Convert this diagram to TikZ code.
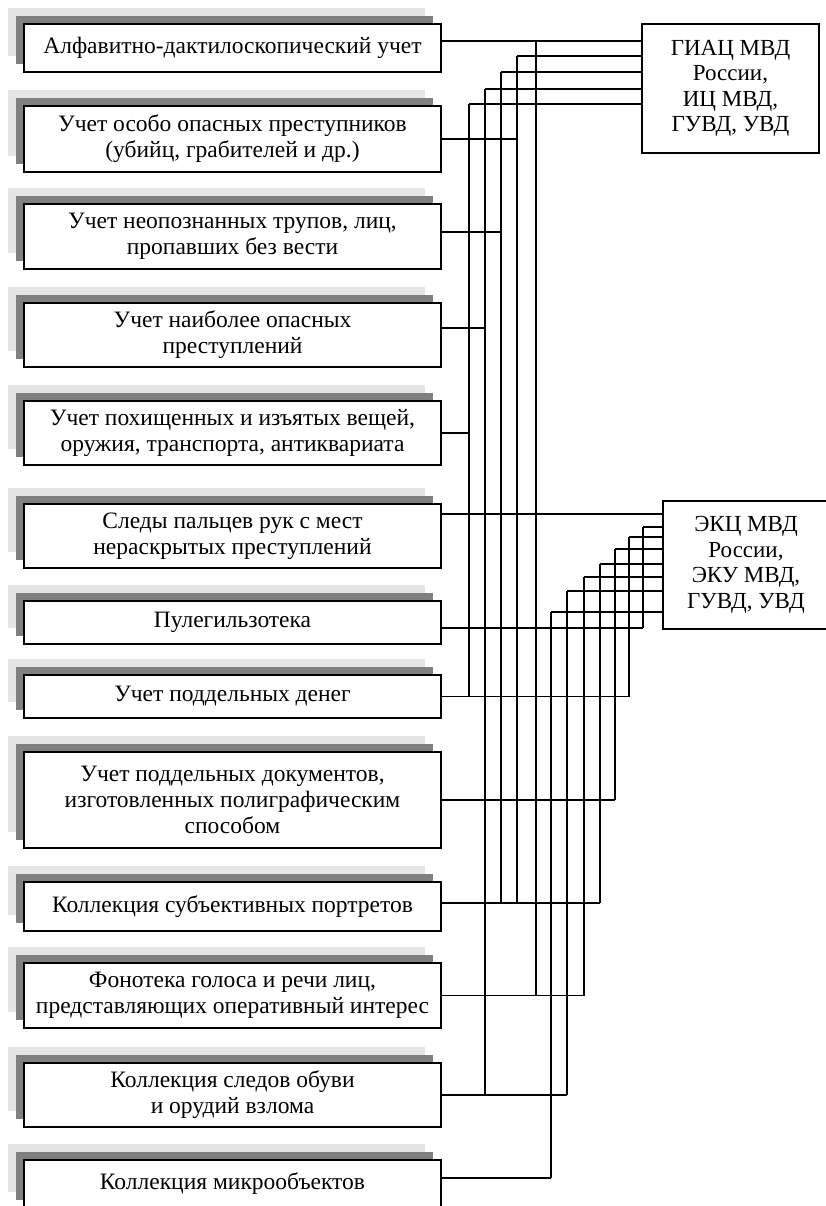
\documentclass[tikz,border=0pt]{standalone}
\usepackage{fontspec}
\setmainfont{Liberation Serif}
\usetikzlibrary{shadows}

\begin{document}
\begin{tikzpicture}[x=1pt,y=-1pt,
        uchet/.style={draw,line width=1.8pt,fill=white,minimum width=417pt,inner sep=0pt,align=center,
            font=\fontsize{23.5}{26}\selectfont,
            general shadow={fill=gray!20,shadow xshift=-16pt,shadow yshift=16pt},
            general shadow={fill=gray,shadow xshift=-8pt,shadow yshift=8pt}},
        centr/.style={draw,line width=1.8pt,fill=white,inner sep=0pt,align=center,
            font=\fontsize{23}{25.5}\selectfont},
        link/.style={line width=1.2pt}]
        \useasboundingbox (0,0) rectangle (826,1206);
        \clip (0,0) rectangle (826,1206);

        %%% Kinds of records
        \node[uchet,minimum height=48pt] (b1) at (232.5,48) {Алфавитно-дактилоскопический учет};
        \node[uchet,minimum height=66pt] (b2) at (232.5,139) {Учет особо опасных преступников\\(убийц, грабителей и др.)};
        \node[uchet,minimum height=65pt] (b3) at (232.5,236.5) {Учет неопознанных трупов, лиц,\\пропавших без вести};
        \node[uchet,minimum height=64pt] (b4) at (232.5,335) {Учет наиболее опасных\\преступлений};
        \node[uchet,minimum height=64pt] (b5) at (232.5,433) {Учет похищенных и изъятых вещей,\\оружия, транспорта, антиквариата};
        \node[uchet,minimum height=64pt] (b6) at (232.5,536) {Следы пальцев рук с мест\\нераскрытых преступлений};
        \node[uchet,minimum height=43pt] (b7) at (232.5,622.5) {Пулегильзотека};
        \node[uchet,minimum height=43pt] (b8) at (232.5,696.5) {Учет поддельных денег};
        \node[uchet,minimum height=96pt] (b9) at (232.5,800) {Учет поддельных документов,\\изготовленных полиграфическим\\способом};
        \node[uchet,minimum height=49pt] (b10) at (232.5,906.5) {Коллекция субъективных портретов};
        \node[uchet,minimum height=65pt] (b11) at (232.5,995.5) {Фонотека голоса и речи лиц,\\представляющих оперативный интерес};
        \node[uchet,minimum height=64pt] (b12) at (232.5,1095) {Коллекция следов обуви\\и орудий взлома};
        \node[uchet,minimum height=48pt] (b13) at (232.5,1184) {Коллекция микрообъектов};

        %%% Centres
        \node[centr,minimum width=177pt,minimum height=129pt] (giac) at (730.5,88.5) {ГИАЦ МВД\\России,\\ИЦ МВД,\\ГУВД, УВД};
        \node[centr,minimum width=166pt,minimum height=128pt] (ekc) at (746,565) {ЭКЦ МВД\\России,\\ЭКУ МВД,\\ГУВД, УВД};

        % Taps on the boxes
        \foreach \i/\s in {1/7,2/0,3/4.5,4/7,5/0,6/22,7/-5.5,8/0,9/0,10/3.5,11/0,12/0,13/6}
            \coordinate (p\i) at ([yshift=\s pt]b\i.east);

        % Rails (top ends)
        \coordinate (ga) at (536,41);
        \coordinate (gb) at (517,56);
        \coordinate (gc) at (501,72);
        \coordinate (gd) at (485,89);
        \coordinate (ge) at (469,104);
        \coordinate (ka) at (643,527);
        \coordinate (kb) at (629,537);
        \coordinate (kc) at (615,549);
        \coordinate (kd) at (600,564);
        \coordinate (ke) at (584,577);
        \coordinate (kf) at (567,591);
        \coordinate (kg) at (551,612);

        % Rails into the centres
        \foreach \r in {gb,gc,gd,ge}
            \draw[link] (\r) -- (giac.west |- \r);
        \foreach \r in {ka,kb,kc,kd,ke,kf,kg}
            \draw[link] (\r) -- (ekc.west |- \r);

        % Vertical rails
        \foreach \r/\b in {ga/11,gb/10,gc/10,gd/12,ge/8,ka/7,kb/8,kc/9,kd/10,ke/11,kf/12,kg/13}
            \draw[link] (\r) -- (\r |- p\b);

        % Lines from the boxes
        \draw[link] (p1) -- (giac.west |- p1);
        \draw[link] (p6) -- (ekc.west |- p6);
        \foreach \b/\r in {2/gb,3/gc,4/gd,5/ge,7/ka,8/kb,9/kc,10/kd,11/ke,12/kf,13/kg}
            \draw[link] (p\b) -- (p\b -| \r);
    \end{tikzpicture}
\end{document}
